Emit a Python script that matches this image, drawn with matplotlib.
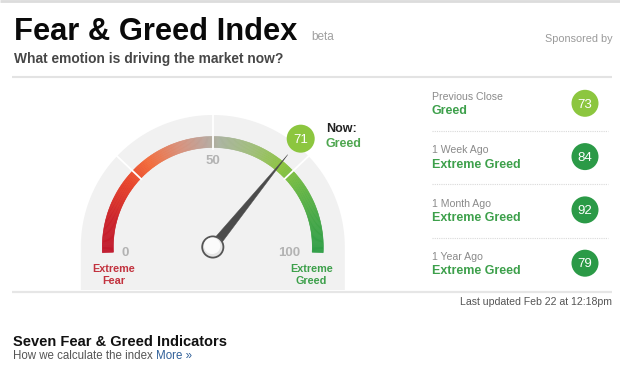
import numpy as np
import matplotlib
matplotlib.use("Agg")
import matplotlib.pyplot as plt
from matplotlib.colors import LinearSegmentedColormap
from matplotlib.patches import Polygon, Circle
from matplotlib.collections import PolyCollection

plt.rcParams['font.family'] = ['Liberation Sans', 'DejaVu Sans']

# ---- data ----
title = "Fear & Greed Index"
subtitle = "What emotion is driving the market now?"
now_value = 71
now_label = "Greed"
gauge_ticks = [0, 50, 100]
zone_dividers = [25, 50, 75]
end_labels = ["Extreme\nFear", "Extreme\nGreed"]
history_periods = ["Previous Close", "1 Week Ago", "1 Month Ago", "1 Year Ago"]
history_values = [73, 84, 92, 79]
history_labels = ["Greed", "Extreme Greed", "Extreme Greed", "Extreme Greed"]
updated_text = "Last updated Feb 22 at 12:18pm"

# ---- canvas in pixel units ----
W, H = 620, 375
fig = plt.figure(figsize=(W / 100, H / 100), dpi=100)
ax = fig.add_axes([0, 0, 1, 1])
ax.set_xlim(0, W)
ax.set_ylim(H, 0)
ax.axis("off")
fig.patch.set_facecolor("white")

GREEN_TXT = "#3da04b"
RED_TXT = "#c2323e"

# header
ax.plot([0, W], [1, 1], color="#dcdcdc", lw=2, solid_capstyle="butt")
ax.text(14, 40, title, fontsize=22.2, fontweight="bold", color="#0a0a0a", va="baseline")
ax.text(311, 39.5, "beta", fontsize=8.5, color="#a0a0a0", va="baseline")
ax.text(613, 42, "Sponsored by", fontsize=7.8, color="#9a9a9a", va="baseline", ha="right")
ax.text(14.5, 62.7, subtitle, fontsize=9.9, fontweight="bold", color="#474747", va="baseline")
ax.plot([12, 612], [77, 77], color="#e3e3e3", lw=1.5, solid_capstyle="butt")

# ---- gauge ----
cx, cy = 212.8, 247.0
r_in, r_out, r_bg = 99.5, 110.5, 132.0


def angle(v):
    """Gauge angle (degrees) for a value 0..100; the dial spans 186 degrees."""
    return 183.0 - 1.86 * v


def point(v, r):
    a = np.deg2rad(angle(v))
    return cx + r * np.cos(a), cy - r * np.sin(a)


# grey dial background
th = np.linspace(np.pi, 0, 200)
bg = [(cx + r_bg * np.cos(t), cy - r_bg * np.sin(t)) for t in th]
bg += [(cx + r_bg, 290), (cx - r_bg, 290)]
ax.add_patch(Polygon(bg, closed=True, facecolor="#f1f1f1", edgecolor="none", zorder=1))

# gradient colour band
band_cmap = LinearSegmentedColormap.from_list(
    "band",
    [(0.00, "#c0172b"), (0.10, "#cc2229"), (0.22, "#e8442a"), (0.30, "#f26b3a"),
     (0.40, "#d9907a"), (0.48, "#bba59c"), (0.52, "#aab3a0"), (0.62, "#a0be7a"),
     (0.72, "#8cc43f"), (0.80, "#68b745"), (0.90, "#46a847"), (1.00, "#2e9e45")])
steps = np.linspace(0, 100, 301)
quads, cols = [], []
for v0, v1 in zip(steps[:-1], steps[1:]):
    quads.append([point(v0, r_in), point(v0, r_out), point(v1, r_out), point(v1, r_in)])
    cols.append(band_cmap((v0 + v1) / 200))
ax.add_collection(PolyCollection(quads, facecolors=cols, edgecolors=cols, linewidths=0.4, zorder=2))

# zone dividers
for v in zone_dividers:
    x0, y0 = point(v, r_in - 1)
    x1, y1 = point(v, r_bg)
    ax.plot([x0, x1], [y0, y1], color="white", lw=1.3, zorder=3)

# tick labels
tick_pos = {0: (cx - 91.5, 256.5, "left"), 50: (cx, 164, "center"), 100: (cx + 87, 256.5, "right")}
for t in gauge_ticks:
    x, y, ha = tick_pos[t]
    ax.text(x, y, str(t), fontsize=9.5, fontweight="bold", color="#b3b3b3", ha=ha, va="baseline", zorder=4)

# extreme labels
ax.text(113.5, 272, end_labels[0].split("\n")[0], fontsize=7.8, fontweight="bold", color=RED_TXT, ha="center", va="baseline")
ax.text(113.5, 284.5, end_labels[0].split("\n")[1], fontsize=7.8, fontweight="bold", color=RED_TXT, ha="center", va="baseline")
ax.text(311.5, 272, end_labels[1].split("\n")[0], fontsize=7.8, fontweight="bold", color=GREEN_TXT, ha="center", va="baseline")
ax.text(311.5, 284.5, end_labels[1].split("\n")[1], fontsize=7.8, fontweight="bold", color=GREEN_TXT, ha="center", va="baseline")


def zone_color(v):
    if v >= 75:
        return "#2b9a47"
    if v >= 55:
        return "#8cc63f"
    if v >= 45:
        return "#b0b0b0"
    if v >= 25:
        return "#f26b3a"
    return "#c0172b"


# needle
a = np.deg2rad(angle(now_value))
perp = np.array([np.sin(a), np.cos(a)])
tip = np.array(point(now_value, 119))
base = np.array([cx, cy])
needle = [base + perp * 4.6, tip, base - perp * 4.6]
ax.add_patch(Polygon(needle, closed=True, facecolor="#4b4b4b", edgecolor="#4b4b4b", lw=0.3, zorder=5))

# pivot
ax.add_patch(Circle((cx, cy), 10.6, facecolor="#e6e6e6", edgecolor="#555555", lw=1.3, zorder=6))
ax.add_patch(Circle((cx - 0.6, cy - 1.2), 8.2, facecolor="#fbfbfb", edgecolor="none", zorder=6))

# current value badge
bx, by = point(now_value, 139.5)
ax.add_patch(Circle((bx, by), 14, facecolor=zone_color(now_value), edgecolor="none", zorder=6))
ax.text(bx, by + 4.2, str(now_value), fontsize=9.5, color="white", ha="center", va="baseline", zorder=7)
ax.text(326, 131.7, "Now:", fontsize=9, fontweight="bold", color="#222222", va="baseline")
ax.text(326, 146.7, now_label, fontsize=9, fontweight="bold", color="#4ea64f", va="baseline")

# ---- history panel ----
row_h = 53.3
for i, (p, v, lab) in enumerate(zip(history_periods, history_values, history_labels)):
    y0 = 100 + i * row_h
    ax.text(432.5, y0, p, fontsize=7.6, color="#8a8a8a", va="baseline")
    ax.text(432, y0 + 14.5, lab, fontsize=9, fontweight="bold", color=GREEN_TXT, va="baseline")
    ax.add_patch(Circle((585, y0 + 3.3), 13.5, facecolor=zone_color(v), edgecolor="none", zorder=3))
    ax.text(585, y0 + 7.5, str(v), fontsize=9.5, color="white", ha="center", va="baseline", zorder=4)
    if i < len(history_periods) - 1:
        ys = y0 + 31
        ax.plot([432, 608], [ys, ys], color="#d9d9d9", lw=0.8, ls=(0, (1, 1)))

# footer of the gauge block
ax.plot([12, 612], [291.5, 291.5], color="#e6e6e6", lw=1.6, solid_capstyle="butt")
ax.text(612, 305, updated_text, fontsize=7.6, color="#555555", ha="right", va="baseline")

# indicators section
ax.text(13, 346, "Seven Fear & Greed Indicators", fontsize=10.5, fontweight="bold", color="#111111", va="baseline")
how = ax.text(13, 359, "How we calculate the index", fontsize=8.3, color="#555555", va="baseline")
ax.annotate("More \u00bb", xy=(1, 0), xycoords=how, xytext=(2.5, 0), textcoords="offset points",
            fontsize=8.3, color="#2f5f98", va="bottom", ha="left")

fig.savefig("out.png", dpi=100, facecolor="white")
